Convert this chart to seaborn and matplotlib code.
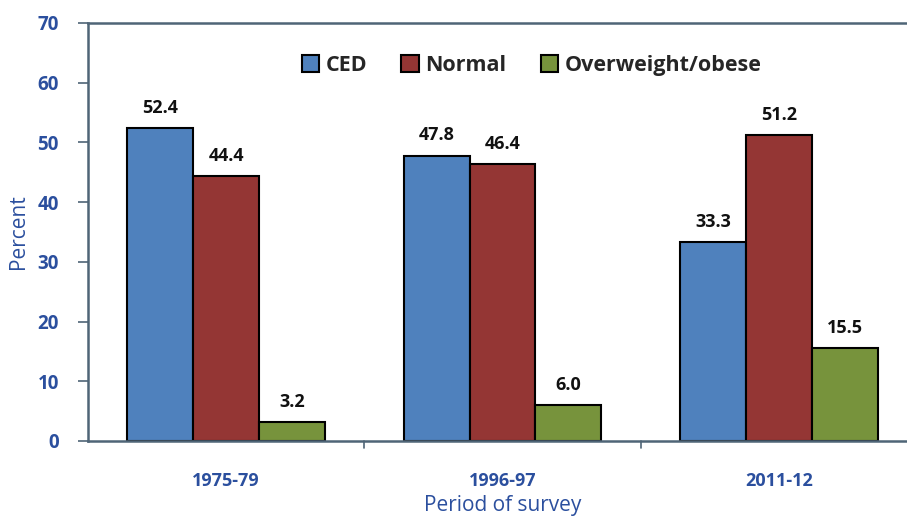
import numpy as np
import pandas as pd
import seaborn as sns
import matplotlib.pyplot as plt

periods = ['1975-79', '1996-97', '2011-12']
groups = ['CED', 'Normal', 'Overweight/obese']
ced = [52.4, 47.8, 33.3]
normal = [44.4, 46.4, 51.2]
overweight = [3.2, 6.0, 15.5]
colors = ['#4F81BD', '#943634', '#77933C']

df = pd.DataFrame({
    'period': periods * 3,
    'group': [g for g in groups for _ in periods],
    'value': ced + normal + overweight,
})

sns.set_theme(style='white')
plt.rcParams['font.family'] = ['Open Sans', 'DejaVu Sans']

blue_txt = '#2B4F9E'
spine_c = '#4F6577'

fig = plt.figure(figsize=(9.07, 5.17), dpi=100)
ax = fig.add_axes([88 / 907, (517 - 441) / 517, 829 / 907, (441 - 23) / 517])

sns.barplot(data=df, x='period', y='value', hue='group', palette=colors,
            saturation=1, width=0.715, gap=0, edgecolor='black', linewidth=1.5,
            ax=ax)

for cont in ax.containers:
    ax.bar_label(cont, fmt='%.1f', padding=8, fontsize=13, fontweight='bold',
                 color='#111111')

ax.set_ylim(0, 70)
ax.set_xlim(-0.5, 2.5)
ax.set_yticks(np.arange(0, 71, 10))
ax.set_xticks([0, 1, 2])
ax.set_xticklabels(periods)
ax.tick_params(axis='y', left=True, length=7, width=1.2, color=spine_c,
               labelsize=13.5, labelcolor=blue_txt, pad=14)
ax.tick_params(axis='x', bottom=False, labelsize=13, labelcolor=blue_txt, pad=16)
for lbl in ax.get_xticklabels() + ax.get_yticklabels():
    lbl.set_fontweight('bold')

# category boundary ticks
for xb in [0.5, 1.5]:
    ax.plot([xb, xb], [0, -1.2], color=spine_c, lw=1.2, clip_on=False)

ax.set_xlabel('Period of survey', fontsize=15, color=blue_txt, labelpad=4)
ax.set_ylabel('Percent', fontsize=15, color=blue_txt, labelpad=6)

for side in ['left', 'bottom', 'top']:
    ax.spines[side].set_color(spine_c)
    ax.spines[side].set_linewidth(1.8)
ax.spines['right'].set_visible(False)

leg = ax.legend(loc='upper center', bbox_to_anchor=(0.535, 0.97), ncol=3,
                frameon=False, handlelength=0.8, handleheight=0.8,
                handletextpad=0.3, columnspacing=1.6,
                prop={'weight': 'bold', 'size': 15.5})
for h in leg.legend_handles:
    h.set_edgecolor('black')
    h.set_linewidth(1.5)

fig.savefig('out.png', dpi=100)
